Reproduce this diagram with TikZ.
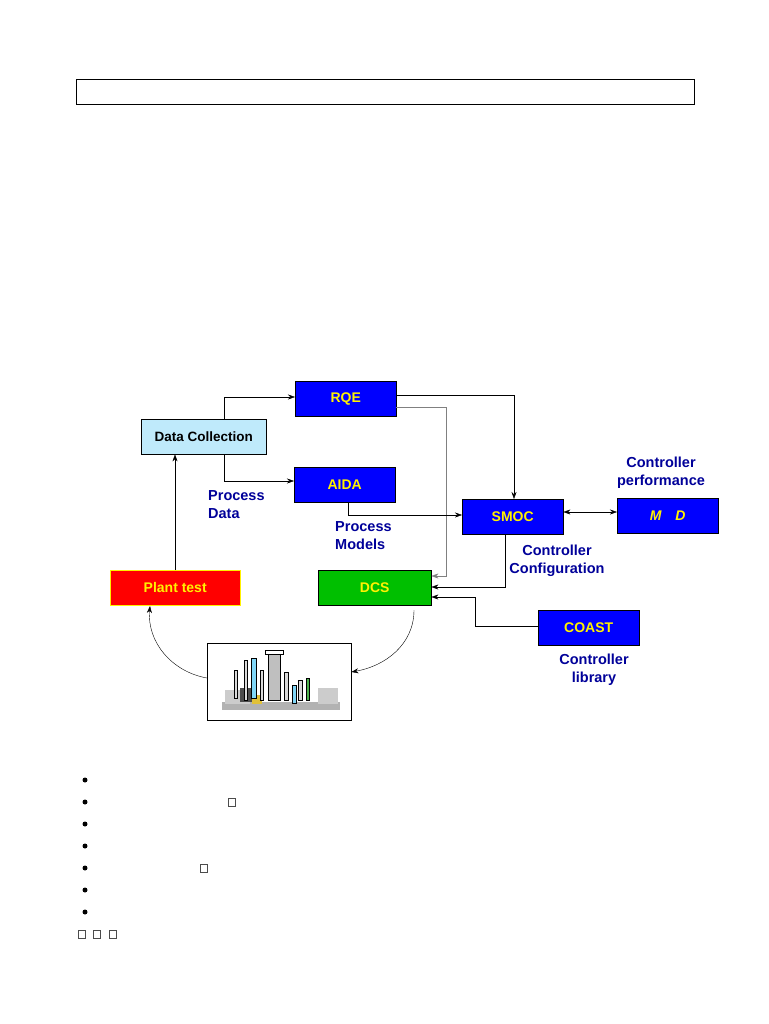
\documentclass[tikz,border=0pt]{standalone}
\usepackage{fontspec}
\setmainfont{Liberation Sans}
\usetikzlibrary{arrows.meta}
\begin{document}
\begin{tikzpicture}[x=1pt,y=-1pt,
  box/.style={draw=black,fill=blue,minimum width=101pt,minimum height=35pt,text=yellow,font=\bfseries\fontsize{14}{15}\selectfont,inner sep=0},
  lbl/.style={text=blue!60!black,font=\bfseries\fontsize{14.5}{18}\selectfont,align=center,inner sep=0},
  arr/.style={-{Stealth[length=7pt,width=5pt]},black},
  sq/.style={draw=black!70,minimum width=7pt,minimum height=8pt,inner sep=0}]
\useasboundingbox (0,0) rectangle (768,1024);
\node[draw,minimum width=618pt,minimum height=25pt,anchor=north west,inner sep=0] (frame) at (76,79) {};
\node[box,anchor=north west] (rqe) at (295,381) {RQE};
\node[box,anchor=north west,fill=cyan!25,text=black,minimum width=125pt,font=\bfseries\fontsize{13.5}{15}\selectfont] (dc) at (141,419) {Data Collection};
\node[box,anchor=north west] (aida) at (294,467) {AIDA};
\node[box,anchor=north west] (smoc) at (462,499) {SMOC};
\node[box,anchor=north west] (md) at (617,498) {\itshape M\quad D};
\node[box,anchor=north west,fill=red,draw=yellow,minimum width=130pt] (pt) at (110,570) {Plant test};
\node[box,anchor=north west,fill=green!75!black,minimum width=113pt] (dcs) at (318,570) {DCS};
\node[box,anchor=north west] (coast) at (538,610) {COAST};
\node[draw,anchor=north west,minimum width=144pt,minimum height=77pt,inner sep=0] (plant) at (207,643) {};
% plant illustration
\begin{scope}
\fill[gray!60] (222,702) rectangle (340,710);
\fill[gray!40] (225,690) rectangle (250,704);
\fill[gray!40] (318,688) rectangle (338,704);
\fill[black!70] (240,688) rectangle (252,702);
\fill[yellow!50!brown] (252,695) rectangle (262,704);
\draw[fill=cyan!50] (251,658) rectangle (256,698);
\draw[fill=gray!50] (268,653) rectangle (280,700);
\draw[fill=white] (265,650) rectangle (283,654);
\draw[fill=cyan!50] (292,685) rectangle (296,703);
\draw[fill=gray!30] (234,670) rectangle (237,698);
\draw[fill=gray!30] (284,672) rectangle (288,700);
\draw[fill=gray!30] (298,680) rectangle (302,700);
\draw[fill=green!40!gray] (306,678) rectangle (309,700);
\draw[fill=gray!30] (244,660) rectangle (247,700);
\draw[fill=gray!30] (260,670) rectangle (263,700);
\end{scope}
\node[lbl,align=left,anchor=north west] (l1) at (208,490) {Process\\Data};
\node[lbl,align=left,anchor=north west] (l2) at (335,521) {Process\\Models};
\node[lbl,anchor=north] (l3) at (661,457) {Controller\\performance};
\node[lbl,anchor=north] (l4) at (557,545) {Controller\\Configuration};
\node[lbl,anchor=north] (l5) at (594,654) {Controller\\library};
% connectors
\draw[arr] (dc.north -| 224,0) |- (rqe.west |- 0,397);
\draw[arr] (dc.south -| 224,0) |- (aida.west |- 0,481);
\draw[arr] (rqe.east |- 0,395) -| (smoc.north -| 514,0);
\draw[arr,gray] (rqe.east |- 0,407) -| (446,576) -- (dcs.east |- 0,576);
\draw[arr] (aida.south -| 348,0) |- (smoc.west |- 0,515);
\draw[{Stealth[length=7pt,width=5pt]}-{Stealth[length=7pt,width=5pt]}] (smoc.east |- 0,512) -- (md.west |- 0,512);
\draw[arr] (smoc.south -| 505,0) |- (dcs.east |- 0,587);
\draw[arr] (coast.west |- 0,626) -| (475,597) -- (dcs.east |- 0,597);
\draw[arr] (pt.north -| 175,0) -- (dc.south -| 175,0);
\draw[arr] (414,610) to[out=-90,in=10] (plant.east |- 0,672);
\draw[arr] (plant.west |- 0,678) to[out=170,in=-95] (150,606);
% bullets
\foreach \y in {780,802,824,846,868,890,912} \fill (85,\y) circle (2.5pt);
\node[sq] (s1) at (232,802) {};
\node[sq] (s2) at (204,868) {};
\node[sq] (s3) at (82,934) {};
\node[sq] (s4) at (97,934) {};
\node[sq] (s5) at (113,934) {};
\end{tikzpicture}
\end{document}
